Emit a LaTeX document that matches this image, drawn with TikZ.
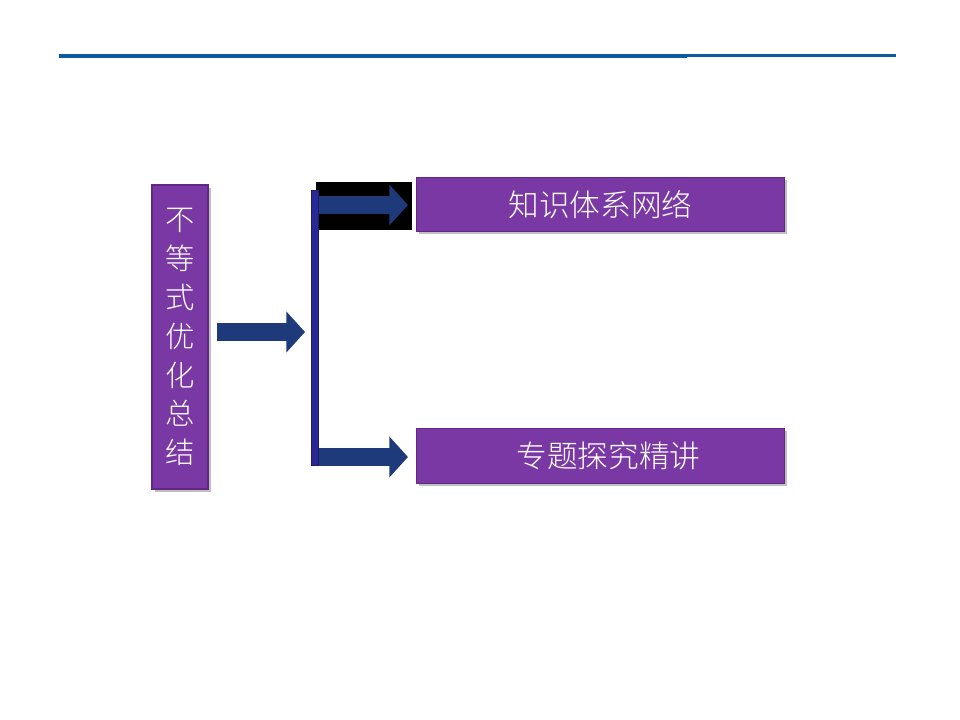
\documentclass[tikz,border=0pt]{standalone}
\usepackage{fontspec}
\newfontfamily\cjk[UprightFont={* Light}]{Noto Sans CJK SC}
\usetikzlibrary{arrows.meta,shadows}
\definecolor{topline}{RGB}{11,92,160}
\definecolor{boxpurple}{RGB}{122,56,164}
\definecolor{boxedge}{RGB}{95,40,130}
\definecolor{arrowblue}{RGB}{30,58,122}
\definecolor{barblue}{RGB}{40,40,150}
\tikzset{
  pbox/.style={rectangle, fill=boxpurple, draw=boxedge, line width=0.8pt, text=white,
    font=\cjk\fontsize{23pt}{27pt}\selectfont, inner sep=0pt,
    drop shadow={opacity=0.5, shadow xshift=2pt, shadow yshift=-2pt}},
  fatarrow/.style={draw=arrowblue, line width=13.5pt,
    -{Triangle[width=30pt, length=14pt]}},
}
\begin{document}
\begin{tikzpicture}[x=0.75pt, y=-0.75pt]
\useasboundingbox (0,0) rectangle (960,720);
% header line
\coordinate (l1) at (59,56.5);
\coordinate (l2) at (687,56.5);
\coordinate (l3) at (687,55.5);
\coordinate (l4) at (896,55.5);
\draw[topline, line width=3pt] (l1) -- (l2);
\draw[topline, line width=2.4pt] (l3) -- (l4);
% left box
\node[pbox, minimum width=42pt, minimum height=228pt, align=center,
  font=\cjk\fontsize{22pt}{29.2pt}\selectfont] (main) at (180,337)
  {不\\等\\式\\优\\化\\总\\结};
% right boxes
\node[pbox, minimum width=276pt, minimum height=41pt] (k1) at (600.5,204.5) {知识体系网络};
\node[pbox, minimum width=276pt, minimum height=41pt] (k2) at (600.5,456) {\hspace*{12pt}专题探究精讲};
% black patch behind top arrow
\node[fill=black, minimum width=72pt, minimum height=36pt, inner sep=0pt] (patch) at (364,206) {};
% vertical bar
\node[fill=barblue, draw=barblue!70!black, line width=0.5pt, minimum width=5pt, minimum height=206pt, inner sep=0pt] (bar) at (314.5,328) {};
% arrows
\coordinate (a0) at ([xshift=6pt]main.east);
\coordinate (a1) at (305,332);
\draw[fatarrow] (a0 |- a1) -- (a1);
\coordinate (t0) at (319,205);
\coordinate (t1) at ([xshift=-6pt]k1.west |- t0);
\draw[fatarrow] (t0) -- (t1);
\coordinate (b0) at (319,457);
\coordinate (b1) at ([xshift=-6pt]k2.west |- b0);
\draw[fatarrow] (b0) -- (b1);
\end{tikzpicture}
\end{document}
